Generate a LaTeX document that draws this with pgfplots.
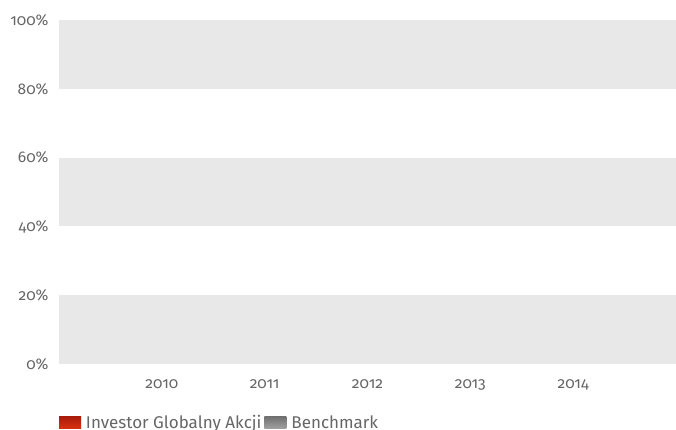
\documentclass[border=0pt]{standalone}
\usepackage{pgfplots}
\pgfplotsset{compat=1.18}
\usepackage{fontspec}
\setmainfont{Fira Sans}[Numbers=OldStyle]
\definecolor{band}{HTML}{E8E8E8}
\definecolor{txt}{HTML}{666666}
\definecolor{redtop}{HTML}{A81C0A}
\definecolor{redbot}{HTML}{D8300F}
\definecolor{graytop}{HTML}{707070}
\definecolor{graybot}{HTML}{A0A0A0}
\begin{document}
\begin{tikzpicture}[x=1pt,y=1pt]
\begin{axis}[
  at={(59pt,66pt)}, anchor=south west,
  width=617pt, height=344pt, scale only axis,
  xmin=0, xmax=6, ymin=0, ymax=100,
  axis line style={draw=none},
  major tick length=0pt,
  xtick={1,2,3,4,5},
  xticklabels={2010,2011,2012,2013,2014},
  ytick={0,20,40,60,80,100},
  yticklabel={\pgfmathprintnumber{\tick}\%},
  /pgf/number format/assume math mode=true,
  tick label style={font=\fontsize{15.5}{17}\selectfont, text=txt},
  yticklabel style={xshift=-7pt},
  xticklabel style={yshift=-12pt},
  ybar, bar width=30pt,
  legend columns=2,
  legend style={at={(0,-49pt)}, anchor=north west, draw=none, fill=none,
    font=\fontsize{17}{19}\selectfont, text=txt,
    /tikz/every odd column/.append style={column sep=3pt},
    /tikz/every even column/.append style={column sep=1pt},
    inner sep=0pt, outer sep=0pt},
]
\fill[band] (axis cs:0,0) rectangle (axis cs:6,20);
\fill[band] (axis cs:0,40) rectangle (axis cs:6,60);
\fill[band] (axis cs:0,80) rectangle (axis cs:6,100);
\addplot[fill=none, draw=none,
  legend image code/.code={\shade[top color=redtop, bottom color=redbot] (0pt,-6pt) rectangle (22pt,6pt);}]
  coordinates {(1,0) (2,0) (3,0) (4,0) (5,0)};
\addlegendentry{Investor Globalny Akcji}
\addplot[fill=none, draw=none,
  legend image code/.code={\shade[top color=graytop, bottom color=graybot] (0pt,-6pt) rectangle (22pt,6pt);}]
  coordinates {(1,0) (2,0) (3,0) (4,0) (5,0)};
\addlegendentry{Benchmark}
\end{axis}
\pgfresetboundingbox
\useasboundingbox (0,0) rectangle (676pt,430pt);
\end{tikzpicture}
\end{document}
